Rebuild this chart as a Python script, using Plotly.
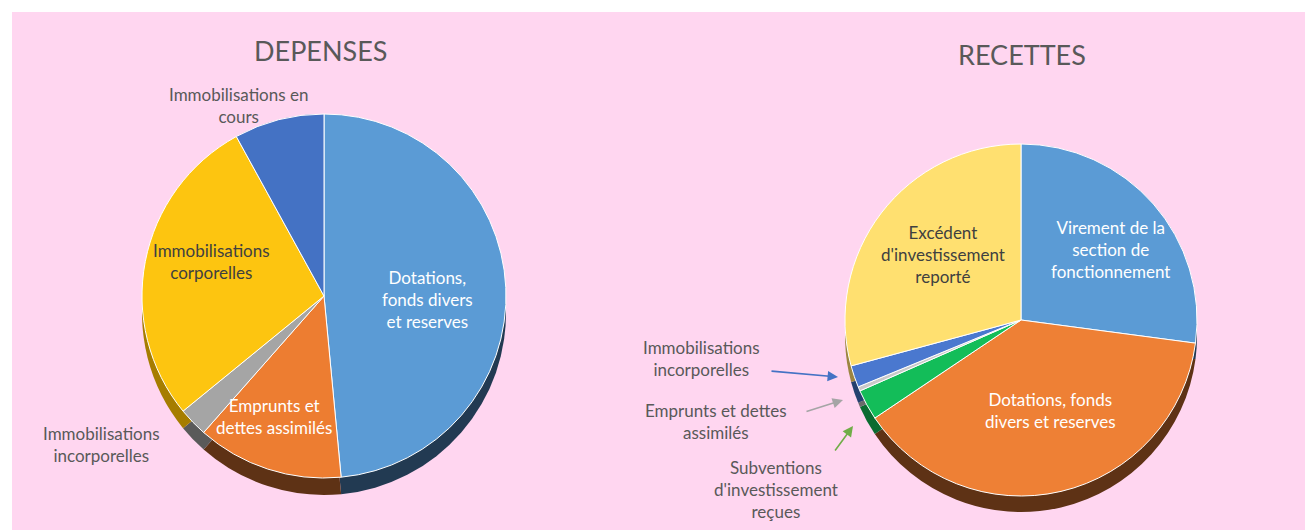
import plotly.graph_objects as go

W, H = 1305, 530

# ---- data ----
dep_labels = ["Dotations, fonds divers et reserves", "Emprunts et dettes assimilés",
              "Immobilisations incorporelles", "Immobilisations corporelles",
              "Immobilisations en cours"]
dep_values = [48.5, 13.0, 2.6, 27.9, 8.0]
dep_colors = ["#5B9BD5", "#ED7D31", "#A5A5A5", "#FDC510", "#4472C4"]
dep_side = ["#223A52", "#5E3215", "#5A5A5A", "#A67D00", "#24406E"]

rec_labels = ["Virement de la section de fonctionnement", "Dotations, fonds divers et reserves",
              "Subventions d'investissement reçues", "Emprunts et dettes assimilés",
              "Immobilisations incorporelles", "Excédent d'investissement reporté"]
rec_values = [27.1, 38.5, 2.8, 0.4, 2.0, 29.2]
rec_colors = ["#5B9BD5", "#EE8035", "#13BD59", "#C9C9C9", "#4A78CF", "#FFE070"]
rec_side = ["#223A52", "#5E3215", "#0A6B30", "#6A6A6A", "#24406E", "#9C8540"]

FONT = "Lato, 'Open Sans', sans-serif"


def px_x(v):
    return v / W


def px_y(v):
    return 1 - v / H


def domain(cx, cy, r):
    return dict(x=[px_x(cx - r), px_x(cx + r)], y=[px_y(cy + r), px_y(cy - r)])


fig = go.Figure()


def add_pie(labels, values, colors, side, cx, cy, r, depth):
    # side wall (3D depth)
    fig.add_trace(go.Pie(labels=labels, values=values, sort=False, direction="clockwise",
                         rotation=0, textinfo="none", hoverinfo="skip",
                         marker=dict(colors=side, line=dict(width=0)),
                         domain=domain(cx, cy + depth, r), showlegend=False))
    # top face
    fig.add_trace(go.Pie(labels=labels, values=values, sort=False, direction="clockwise",
                         rotation=0, textinfo="none", hoverinfo="label+percent",
                         marker=dict(colors=colors, line=dict(color="white", width=1)),
                         domain=domain(cx, cy, r), showlegend=False))


add_pie(dep_labels, dep_values, dep_colors, dep_side, 324, 296, 182, 17)
add_pie(rec_labels, rec_values, rec_colors, rec_side, 1021, 320, 176, 16)

ann = []


def label(text, x, y, color, size=17):
    ann.append(dict(text=text, x=px_x(x), y=px_y(y), xref="paper", yref="paper",
                    showarrow=False, font=dict(family=FONT, size=size, color=color),
                    xanchor="center", yanchor="middle", align="center"))


def arrow(x0, y0, x1, y1, color):
    ann.append(dict(text="", x=px_x(x1), y=px_y(y1), ax=x0 - x1, ay=y0 - y1,
                    xref="paper", yref="paper", axref="pixel", ayref="pixel",
                    showarrow=True, arrowhead=2, arrowsize=1.3, arrowwidth=1.6,
                    arrowcolor=color))


GREY = "#595959"
DARK = "#404040"

# titles
ann.append(dict(text="DEPENSES", x=px_x(320), y=px_y(51), xref="paper", yref="paper",
                showarrow=False, font=dict(family=FONT, size=27, color=GREY, weight=400),
                xanchor="center", yanchor="middle"))
ann.append(dict(text="RECETTES", x=px_x(1022), y=px_y(55), xref="paper", yref="paper",
                showarrow=False, font=dict(family=FONT, size=27, color=GREY, weight=400),
                xanchor="center", yanchor="middle"))

# DEPENSES labels
label("Immobilisations en<br>cours", 238, 106, GREY)
label("Immobilisations<br>corporelles", 212, 261, DARK)
label("Dotations,<br>fonds divers<br>et reserves", 427, 299, "white")
label("Emprunts et<br>dettes assimilés", 274, 416, "white")
label("Immobilisations<br>incorporelles", 101, 444, GREY)

# RECETTES labels
label("Virement de la<br>section de<br>fonctionnement", 1110, 249, "white")
label("Excédent<br>d'investissement<br>reporté", 943, 254, DARK)
label("Dotations, fonds<br>divers et reserves", 1050, 410, "white")
label("Immobilisations<br>incorporelles", 701, 358, GREY)
label("Emprunts et dettes<br>assimilés", 716, 421, GREY)
label("Subventions<br>d'investissement<br>reçues", 776, 489, GREY)

arrow(770, 371, 838, 377, "#4472C4")
arrow(805, 412, 843, 400, "#A5A5A5")
arrow(834, 452, 853, 426, "#70AD47")

fig.update_layout(
    width=W, height=H,
    margin=dict(l=0, r=0, t=0, b=0),
    paper_bgcolor="white",
    plot_bgcolor="white",
    annotations=ann,
    shapes=[dict(type="rect", xref="paper", yref="paper", x0=px_x(12), x1=1,
                 y0=0, y1=px_y(12), fillcolor="#FFD6F0", line=dict(width=0),
                 layer="below")],
    font=dict(family=FONT),
)

fig.write_html("out.html", config={"displayModeBar": False},
               post_script="document.body.style.margin='0px';document.body.style.overflow='hidden';")
